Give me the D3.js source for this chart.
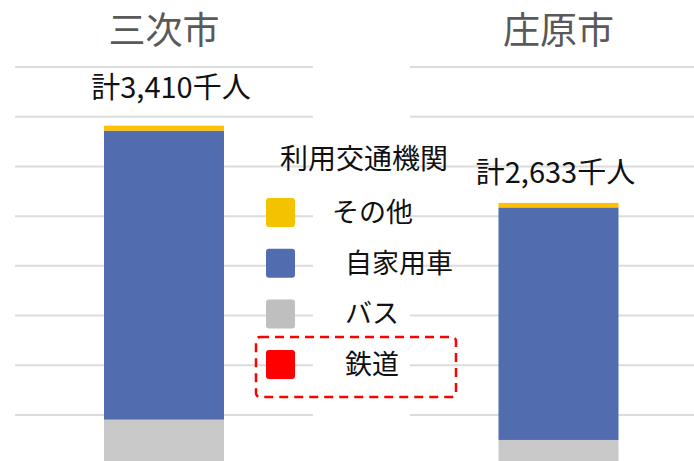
<!DOCTYPE html>
<html>
<head>
<meta charset="utf-8">
<script src="https://cdn.jsdelivr.net/npm/d3@7"></script>
<style>
  body { margin: 0; background: #fff; }
  svg { display: block; font-family: "Noto Sans CJK JP", "Noto Sans", sans-serif; }
</style>
</head>
<body>
<div id="chart"></div>
<script>
// データ（千人）
const cities = ['三次市', '庄原市']
const modes = ['鉄道', 'バス', '自家用車', 'その他']   // 下から積み上げ
const rail  = [30, 20]
const bus   = [423, 229]
const car   = [2907, 2339]
const other = [50, 45]
const gridTicks = [500, 1000, 1500, 2000, 2500, 3000, 3500, 4000]
const legendTitle = '利用交通機関'
const legendOrder = ['その他', '自家用車', 'バス', '鉄道']

const barColor = { 'その他': '#ffc000', '自家用車': '#516db0', 'バス': '#c9c9c9', '鉄道': '#ff0000' }
const legendColor = { 'その他': '#f4c300', '自家用車': '#516db0', 'バス': '#bfbfbf', '鉄道': '#ff0000' }

const width = 694, height = 461

// 表にする
const table = cities.map((c, i) => ({ city: c, '鉄道': rail[i], 'バス': bus[i], '自家用車': car[i], 'その他': other[i] }))
const series = d3.stack().keys(modes)(table)
const totals = table.map(d => d3.sum(modes, k => d[k]))

// パネル（左右）
const panels = [
  { city: '三次市', x0: 15, x1: 313, labelDx: 7, labelDy: 28 },
  { city: '庄原市', x0: 410, x1: 694, labelDx: -3, labelDy: 20 }
]

const y = d3.scaleLinear().domain([500, 4000]).range([415, 67])
const x = d3.scalePoint().domain(cities).range([164, 558.5])
const barW = 120

const svg = d3.select('#chart').append('svg')
  .attr('width', width).attr('height', height)

// グリッド線
panels.forEach(p => {
  svg.append('g').selectAll('line')
    .data(gridTicks)
    .join('line')
    .attr('x1', p.x0).attr('x2', p.x1)
    .attr('y1', d => y(d)).attr('y2', d => y(d))
    .attr('stroke', '#dcdcdc')
    .attr('stroke-width', 2)
})

// 棒
svg.append('g').selectAll('g')
  .data(series)
  .join('g')
  .attr('fill', s => barColor[s.key])
  .selectAll('rect')
  .data(s => s)
  .join('rect')
  .attr('x', d => x(d.data.city) - barW / 2)
  .attr('width', barW)
  .attr('y', d => y(d[1]))
  .attr('height', d => y(d[0]) - y(d[1]))

// 市名
svg.append('g').selectAll('text')
  .data(cities)
  .join('text')
  .attr('x', d => x(d))
  .attr('y', 44)
  .attr('text-anchor', 'middle')
  .attr('font-size', 37)
  .attr('fill', '#595959')
  .text(d => d)

// 合計ラベル
svg.append('g').selectAll('text')
  .data(cities)
  .join('text')
  .attr('x', (d, i) => x(d) + panels[i].labelDx)
  .attr('y', (d, i) => y(totals[i]) - panels[i].labelDy)
  .attr('text-anchor', 'middle')
  .attr('font-size', 29)
  .attr('fill', '#111')
  .text((d, i) => '計' + d3.format(',')(totals[i]) + '千人')

// 凡例
const legend = svg.append('g')
legend.append('text')
  .attr('x', 364).attr('y', 169)
  .attr('text-anchor', 'middle')
  .attr('font-size', 28)
  .attr('fill', '#111')
  .text(legendTitle)

const items = legend.selectAll('g.item')
  .data(legendOrder)
  .join('g')
  .attr('class', 'item')
  .attr('transform', (d, i) => `translate(266,${198 + i * 50.7})`)

items.append('rect')
  .attr('width', 29).attr('height', 29)
  .attr('rx', 3)
  .attr('fill', d => legendColor[d])

items.append('text')
  .attr('x', (d) => d === 'その他' ? 66 : 79)
  .attr('y', 24)
  .attr('font-size', 27)
  .attr('fill', '#111')
  .text(d => d)

// 鉄道を囲む赤い破線
legend.append('rect')
  .attr('x', 256).attr('y', 337)
  .attr('width', 200).attr('height', 60)
  .attr('rx', 4)
  .attr('fill', 'none')
  .attr('stroke', '#ff0000')
  .attr('stroke-width', 2.5)
  .attr('stroke-dasharray', '9,6')
</script>
</body>
</html>
